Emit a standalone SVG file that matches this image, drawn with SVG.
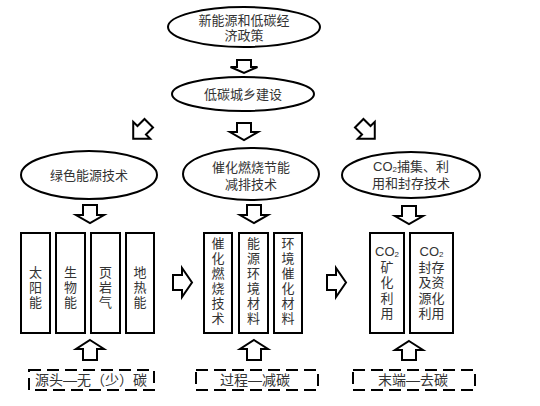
<svg xmlns="http://www.w3.org/2000/svg" width="540" height="406" viewBox="0 0 540 406">
<style>
.sh{fill:#fff;stroke:#000;stroke-width:2}
.ar{fill:#fff;stroke:#000;stroke-width:2;stroke-linejoin:miter}
.dash{fill:none;stroke:#000;stroke-width:2;stroke-dasharray:12 6}
text{font-family:"Liberation Sans","Noto Sans CJK SC",sans-serif;font-size:13px;fill:#333;text-anchor:middle;dominant-baseline:central}
.lb{font-size:14px}
.sub{font-size:8px}
</style>
<rect width="540" height="406" fill="#fff"/>
<g id="connectors">
<path class="ar" d="M237,60 H251 V67 H257.5 L244,73 L230.5,67 H237 Z"/>
<path class="ar" d="M237,123 H251 V132 H258 L244,140 L230,132 H237 Z"/>
<path class="ar" transform="translate(141,131) rotate(45)" d="M-6,-11 H6 V-1 H12 L0,11 L-12,-1 H-6 Z"/>
<path class="ar" transform="translate(367,131) rotate(-45)" d="M-6,-11 H6 V-1 H12 L0,11 L-12,-1 H-6 Z"/>
<path class="ar" d="M83,205 H97 V215 H104 L90,223 L76,215 H83 Z"/>
<path class="ar" d="M247,205 H261 V215 H268 L254,223 L240,215 H247 Z"/>
<path class="ar" d="M402,206 H416 V216 H423 L409,224 L395,216 H402 Z"/>
<path class="ar" d="M173,275 H182 V268 L192,282.5 L182,297 V290 H173 Z"/>
<path class="ar" d="M327,275 H336 V268 L346,282.5 L336,297 V290 H327 Z"/>
<path class="ar" d="M90,340 L104,349 H97 V360 H83 V349 H76 Z"/>
<path class="ar" d="M254,340 L268,349 H261 V360 H247 V349 H240 Z"/>
<path class="ar" d="M409,341 L423,350 H416 V360 H402 V350 H395 Z"/>
</g>
<g id="policy">
<ellipse class="sh" cx="244" cy="27" rx="76" ry="20"/>
<text x="244" y="20">新能源和低碳经<tspan x="244" dy="15">济政策</tspan></text>
</g>
<g id="urban">
<ellipse class="sh" cx="243" cy="94" rx="71" ry="17"/>
<text x="243" y="94">低碳城乡建设</text>
</g>
<g id="green">
<ellipse class="sh" cx="89" cy="175" rx="68" ry="24"/>
<text x="89" y="175">绿色能源技术</text>
</g>
<g id="catalytic">
<ellipse class="sh" cx="251" cy="174" rx="68" ry="26"/>
<text x="251" y="167">催化燃烧节能<tspan x="251" dy="17">减排技术</tspan></text>
</g>
<g id="ccus">
<ellipse class="sh" cx="411" cy="175" rx="69" ry="23"/>
<text x="411" y="166">CO<tspan class="sub" dy="3">2</tspan><tspan dy="-3">捕集、利</tspan><tspan x="411" dy="17">用和封存技术</tspan></text>
</g>
<g id="solar">
<rect class="sh" x="21" y="233" width="29" height="100"/>
<text x="35.5" y="272.5">太<tspan x="35.5" dy="14.5">阳</tspan><tspan x="35.5" dy="14.5">能</tspan></text>
</g>
<g id="biomass">
<rect class="sh" x="56" y="233" width="29" height="100"/>
<text x="70.5" y="272.5">生<tspan x="70.5" dy="14.5">物</tspan><tspan x="70.5" dy="14.5">能</tspan></text>
</g>
<g id="shale">
<rect class="sh" x="91" y="233" width="29" height="100"/>
<text x="105.5" y="272.5">页<tspan x="105.5" dy="14.5">岩</tspan><tspan x="105.5" dy="14.5">气</tspan></text>
</g>
<g id="geothermal">
<rect class="sh" x="126" y="233" width="28" height="100"/>
<text x="140" y="272.5">地<tspan x="140" dy="14.5">热</tspan><tspan x="140" dy="14.5">能</tspan></text>
</g>
<g id="cat-tech">
<rect class="sh" x="204" y="233" width="28" height="100"/>
<text x="218" y="243">催<tspan x="218" dy="15">化</tspan><tspan x="218" dy="15">燃</tspan><tspan x="218" dy="15">烧</tspan><tspan x="218" dy="15">技</tspan><tspan x="218" dy="15">术</tspan></text>
</g>
<g id="energy-mat">
<rect class="sh" x="239" y="233" width="29" height="100"/>
<text x="253.5" y="243">能<tspan x="253.5" dy="15">源</tspan><tspan x="253.5" dy="15">环</tspan><tspan x="253.5" dy="15">境</tspan><tspan x="253.5" dy="15">材</tspan><tspan x="253.5" dy="15">料</tspan></text>
</g>
<g id="env-cat">
<rect class="sh" x="274" y="233" width="28" height="100"/>
<text x="288" y="243">环<tspan x="288" dy="15">境</tspan><tspan x="288" dy="15">催</tspan><tspan x="288" dy="15">化</tspan><tspan x="288" dy="15">材</tspan><tspan x="288" dy="15">料</tspan></text>
</g>
<g id="mineral">
<rect class="sh" x="370" y="233" width="34" height="100"/>
<text x="387" y="251">CO<tspan class="sub" dy="3">2</tspan><tspan x="387" dy="13">矿</tspan><tspan x="387" dy="15">化</tspan><tspan x="387" dy="16">利</tspan><tspan x="387" dy="15">用</tspan></text>
</g>
<g id="storage">
<rect class="sh" x="410" y="233" width="43" height="100"/>
<text x="431.5" y="251">CO<tspan class="sub" dy="3">2</tspan><tspan x="431.5" dy="13">封存</tspan><tspan x="431.5" dy="15">及资</tspan><tspan x="431.5" dy="16">源化</tspan><tspan x="431.5" dy="15">利用</tspan></text>
</g>
<g id="source">
<rect class="dash" x="29" y="370" width="125" height="20"/>
<text class="lb" x="91" y="380">源头—无（少）碳</text>
</g>
<g id="process">
<rect class="dash" x="196" y="370" width="122" height="20"/>
<text class="lb" x="255" y="380">过程—减碳</text>
</g>
<g id="end">
<rect class="dash" x="353" y="370" width="122" height="20"/>
<text class="lb" x="413" y="380">末端—去碳</text>
</g>
</svg>
